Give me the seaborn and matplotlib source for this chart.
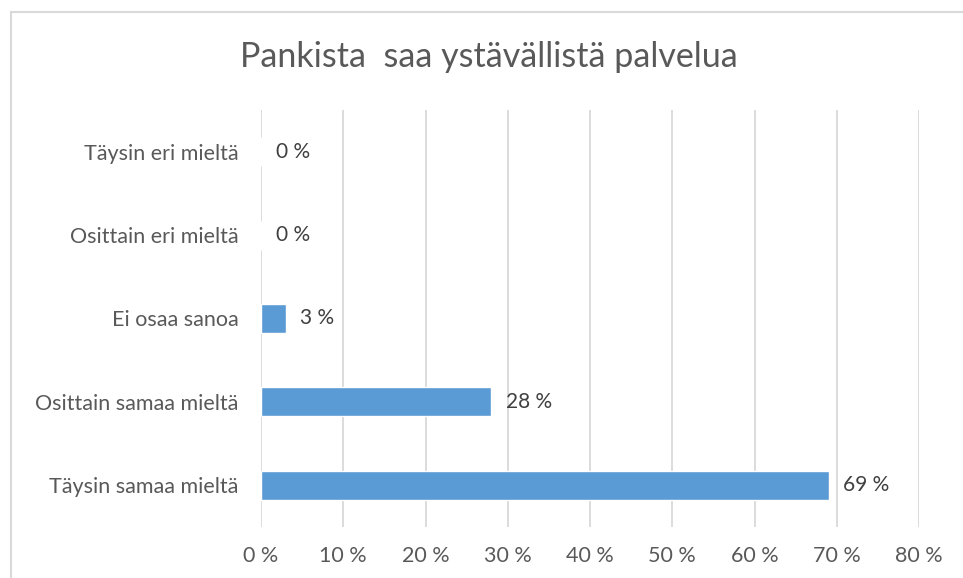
import matplotlib.pyplot as plt
import matplotlib.patches as patches
import seaborn as sns
import pandas as pd

categories = ['Täysin eri mieltä', 'Osittain eri mieltä', 'Ei osaa sanoa',
              'Osittain samaa mieltä', 'Täysin samaa mieltä']
values = [0, 0, 3, 28, 69]
xticks = [0, 10, 20, 30, 40, 50, 60, 70, 80]

df = pd.DataFrame({'vastaus': categories, 'osuus': values})

sns.set_style('white')
plt.rcParams['font.family'] = ['Lato', 'DejaVu Sans']

fig = plt.figure(figsize=(9.63, 5.78), dpi=100)
ax = fig.add_axes([261 / 963, 1 - 527 / 578, 658 / 963, 417 / 578])

sns.barplot(data=df, y='vastaus', x='osuus', color='#5B9BD5', width=0.35,
            saturation=1, ax=ax, zorder=3)

ax.set_xlim(0, 80)
ax.set_xticks(xticks)
ax.set_xticklabels([f'{t} %' for t in xticks])
ax.grid(axis='x', color='#D9D9D9', linewidth=1.3, zorder=0)
ax.grid(axis='y', visible=False)
for s in ax.spines.values():
    s.set_visible(False)
ax.tick_params(axis='both', length=0, labelsize=15.5, colors='#595959')
ax.tick_params(axis='x', pad=14)
ax.tick_params(axis='y', pad=16)
ax.set_xlabel('')
ax.set_ylabel('')

for i, v in enumerate(values):
    ax.text(v + 1.8, i, f'{v} %', va='center', ha='left', fontsize=15, color='#404040')

fig.text(489 / 963, 1 - 57 / 578, 'Pankista  saa ystävällistä palvelua',
         ha='center', va='center', fontsize=24.5, color='#595959')

fig.patches.append(patches.Rectangle((11 / 963, -0.05), 1.0, 1 - 12 / 578 + 0.05,
                                     transform=fig.transFigure, fill=False,
                                     edgecolor='#D9D9D9', linewidth=1.5))

plt.savefig('out.png', dpi=100)
